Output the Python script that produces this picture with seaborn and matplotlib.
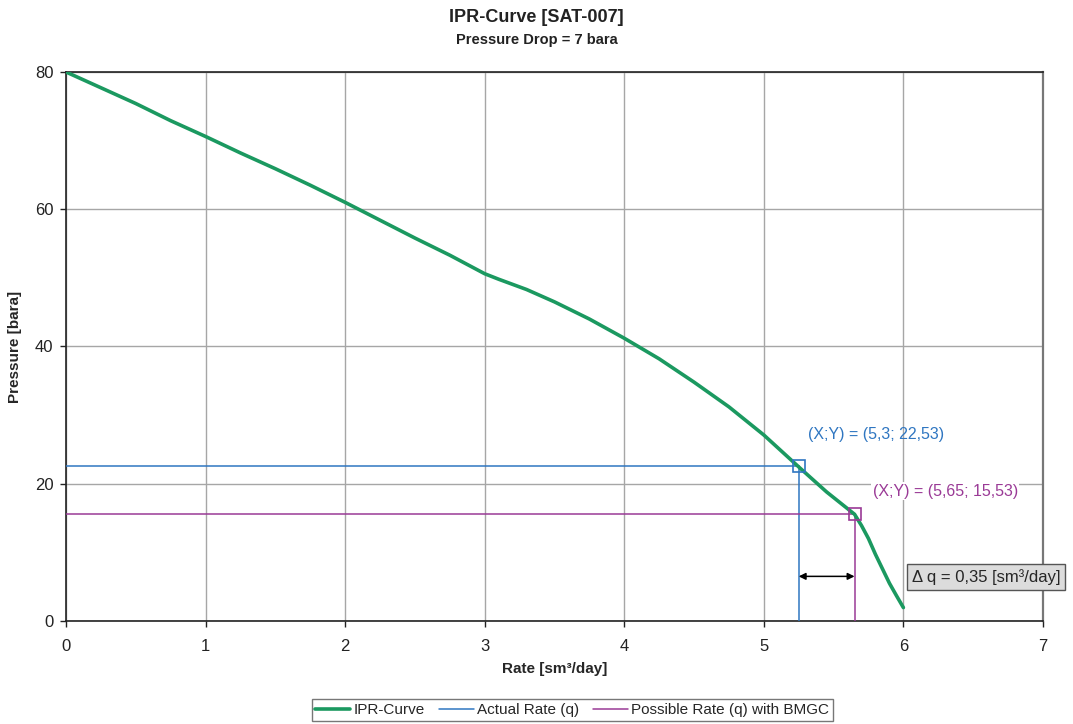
import matplotlib
matplotlib.use("Agg")
import matplotlib.pyplot as plt
import pandas as pd
import seaborn as sns

# --- Data ---
rate = [0.0, 0.25, 0.5, 0.75, 1.0, 1.25, 1.5, 1.75, 2.0, 2.25, 2.5, 2.75, 3.0,
        3.1, 3.3, 3.5, 3.75, 4.0, 4.25, 4.5, 4.75, 5.0, 5.25, 5.45, 5.65,
        5.7, 5.75, 5.8, 5.85, 5.9, 5.95, 6.0]
pressure = [80.0, 77.7, 75.4, 72.9, 70.6, 68.2, 65.9, 63.5, 61.0, 58.4, 55.8,
            53.3, 50.6, 49.8, 48.3, 46.5, 44.0, 41.2, 38.2, 34.8, 31.2, 27.1,
            22.45, 18.8, 15.55, 13.9, 12.0, 9.7, 7.6, 5.5, 3.7, 1.95]

actual_q = 5.25
actual_p = 22.53
possible_q = 5.65
possible_p = 15.53

actual_label = "(X;Y) = (5,3; 22,53)"
possible_label = "(X;Y) = (5,65; 15,53)"
delta_label = "Δ q = 0,35 [sm³/day]"

GREEN = "#1b9960"
BLUE = "#2f76c1"
PURPLE = "#9a3a96"


def main():
    sns.set_theme(style="white")
    plt.rcParams['font.family'] = ['Liberation Sans', 'DejaVu Sans']

    fig = plt.figure(figsize=(10.73, 7.24), dpi=100)
    ax = fig.add_axes([0.0615, 0.1423, 0.9105, 0.7583])

    df = pd.DataFrame({'Rate': rate, 'Pressure': pressure})
    sns.lineplot(data=df, x='Rate', y='Pressure', ax=ax, color=GREEN,
                 linewidth=2.6, label='IPR-Curve', zorder=4, sort=False)

    # reference lines for actual and possible rate
    ax.plot([0, actual_q], [actual_p, actual_p], color=BLUE, lw=1.1, zorder=3,
            label='Actual Rate (q)')
    ax.plot([actual_q, actual_q], [0, actual_p], color=BLUE, lw=1.1, zorder=3)
    ax.plot([0, possible_q], [possible_p, possible_p], color=PURPLE, lw=1.1,
            zorder=3, label='Possible Rate (q) with BMGC')
    ax.plot([possible_q, possible_q], [0, possible_p], color=PURPLE, lw=1.1,
            zorder=3)

    ax.plot(actual_q, actual_p, marker='s', ms=8, mfc='none', mec=BLUE,
            mew=1.2, zorder=5)
    ax.plot(possible_q, possible_p, marker='s', ms=8, mfc='none', mec=PURPLE,
            mew=1.2, zorder=5)

    ax.text(5.32, 27.1, actual_label, color=BLUE, fontsize=11.5,
            va='center', ha='left', zorder=6)
    ax.text(5.78, 18.9, possible_label, color=PURPLE, fontsize=11.5,
            va='center', ha='left', zorder=6,
            bbox=dict(facecolor='white', edgecolor='none', pad=1))

    ax.annotate('', xy=(actual_q, 6.5), xytext=(possible_q, 6.5),
                arrowprops=dict(arrowstyle='<|-|>', color='black', lw=1.1,
                                mutation_scale=10, shrinkA=0, shrinkB=0),
                zorder=6)
    ax.text(6.06, 6.4, delta_label, fontsize=12, va='center', ha='left',
            zorder=7, clip_on=False,
            bbox=dict(boxstyle='square,pad=0.3', facecolor='#dcdcdc',
                      edgecolor='#555555', lw=1))

    ax.set_xlim(0, 7)
    ax.set_ylim(0, 80)
    ax.set_xticks(range(0, 8))
    ax.set_yticks(range(0, 81, 20))
    ax.grid(True, color='#a6a6a6', lw=1)
    ax.set_axisbelow(True)

    for side in ['left', 'bottom', 'top']:
        ax.spines[side].set_color('#222222')
        ax.spines[side].set_linewidth(1.2)
    ax.spines['right'].set_color('#777777')
    ax.spines['right'].set_linewidth(1.6)

    ax.tick_params(axis='both', which='both', direction='out', length=4,
                   width=1, color='#222222', labelsize=12, labelcolor='#222222',
                   left=True, bottom=True)
    ax.tick_params(axis='x', pad=9)
    ax.tick_params(axis='y', pad=5)

    ax.set_xlabel('Rate [sm³/day]', fontsize=11, fontweight='bold',
                  labelpad=6)
    ax.set_ylabel('Pressure [bara]', fontsize=11, fontweight='bold',
                  labelpad=9)

    fig.text(0.5, 0.976, 'IPR-Curve [SAT-007]', ha='center', va='center',
             fontsize=13, fontweight='bold', color='#222222')
    fig.text(0.5, 0.945, 'Pressure Drop = 7 bara', ha='center', va='center',
             fontsize=10.5, fontweight='bold', color='#222222')

    leg = ax.legend(loc='center', bbox_to_anchor=(0.518, -0.162), ncol=3,
                    fontsize=11, frameon=True, fancybox=False,
                    handlelength=2.3, handletextpad=0.2, columnspacing=0.9,
                    borderpad=0.25)
    leg.get_frame().set_edgecolor('#555555')
    leg.get_frame().set_linewidth(1)

    fig.savefig('out.png', dpi=100)
    plt.close(fig)


if __name__ == "__main__":
    main()
